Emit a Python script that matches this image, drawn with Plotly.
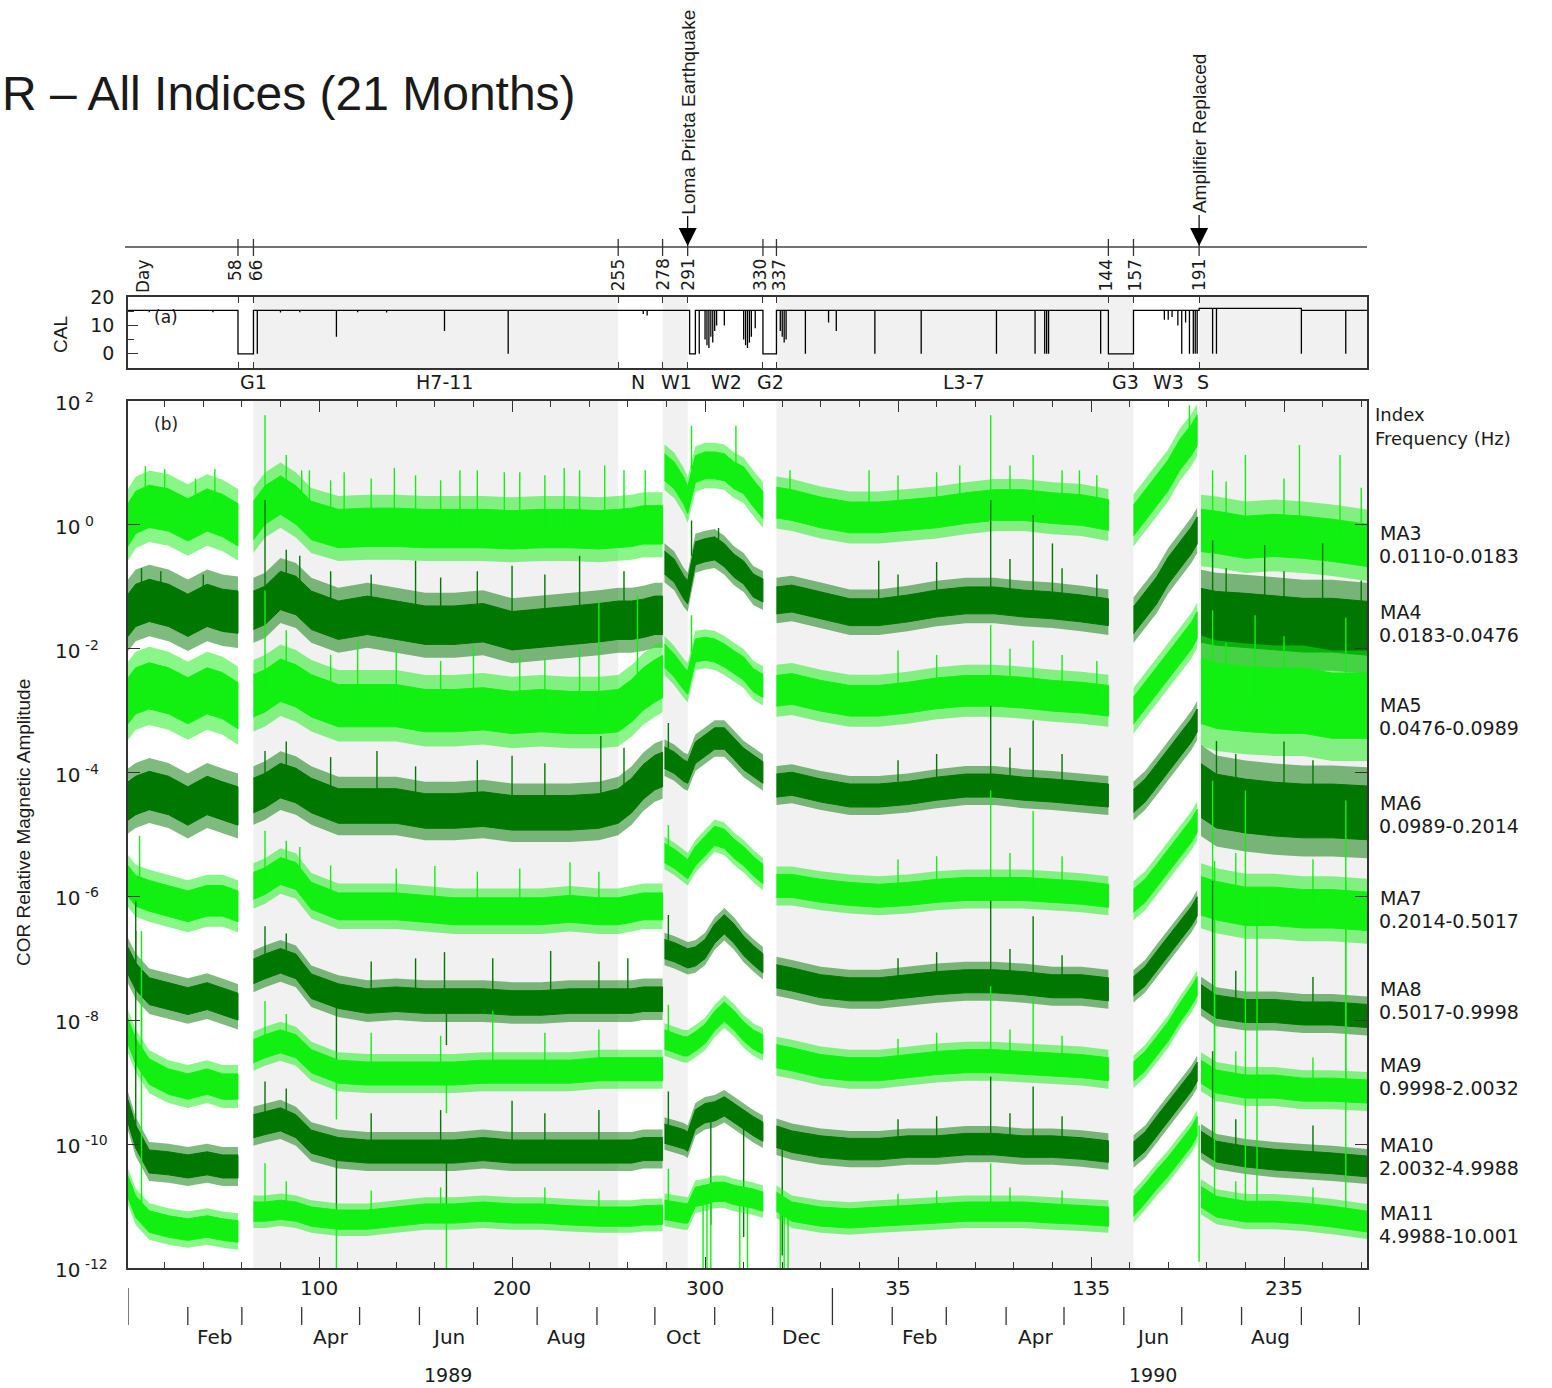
import plotly.graph_objects as go

W, H = 1552, 1388
def px(x): return x / W
def py(y): return 1 - y / H

# ---------------- data ----------------
# day number counted from 1 Jan 1989 (1990 days = 365 + day-of-year)
days = [1, 5, 12, 22, 32, 42, 50, 58,
        66, 72, 80, 88, 96, 110, 125, 140, 155, 170, 185, 200, 215, 230, 245, 255, 262, 268, 274, 278,
        279, 284, 289, 291, 295, 300, 305, 310, 315, 320, 325, 330,
        337, 345, 360, 375, 390, 405, 420, 435, 450, 465, 480, 495, 509,
        522, 528, 534, 540, 546, 552, 555,
        557, 565, 580, 595, 610, 625, 643]
seg_len = [8, 20, 12, 13, 7, 7]

# band centre levels (log10 of amplitude)
ma3_lvl = [0.0, 0.2, 0.3, 0.24, 0.08, 0.24, 0.15, 0.0,
           0.07, 0.32, 0.48, 0.32, 0.07, -0.06, -0.04, -0.04, -0.06, -0.06, -0.06, -0.08, -0.06, -0.06, -0.08, -0.06, -0.04, 0.0, 0.0, 0.0,
           0.93, 0.8, 0.55, 0.4, 0.9, 0.96, 0.96, 0.93, 0.8, 0.72, 0.51, 0.32,
           0.36, 0.32, 0.2, 0.12, 0.12, 0.16, 0.2, 0.27, 0.32, 0.32, 0.27, 0.24, 0.16,
           0.07, 0.32, 0.56, 0.8, 1.13, 1.37, 1.53,
           -0.09, -0.12, -0.2, -0.17, -0.2, -0.25, -0.33]
ma4_lvl = [-1.46, -1.3, -1.22, -1.3, -1.46, -1.3, -1.38, -1.41,
           -1.38, -1.3, -1.06, -1.14, -1.38, -1.54, -1.46, -1.54, -1.62, -1.62, -1.58, -1.71, -1.67, -1.62, -1.58, -1.54, -1.54, -1.51, -1.46, -1.46,
           -0.61, -0.74, -1.01, -1.09, -0.46, -0.41, -0.38, -0.49, -0.66, -0.77, -0.98, -1.06,
           -1.22, -1.19, -1.3, -1.41, -1.41, -1.35, -1.27, -1.22, -1.22, -1.27, -1.3, -1.35, -1.41,
           -1.54, -1.3, -1.06, -0.74, -0.49, -0.25, -0.09,
           -1.46, -1.51, -1.54, -1.58, -1.62, -1.62, -1.67]
ma5_lvl = [-2.84, -2.68, -2.6, -2.68, -2.84, -2.68, -2.76, -2.92,
           -2.76, -2.68, -2.51, -2.6, -2.76, -2.92, -2.92, -2.92, -3.0, -3.0, -2.97, -3.03, -3.0, -3.03, -3.03, -3.0, -2.84, -2.65, -2.52, -2.45,
           -2.11, -2.27, -2.48, -2.55, -2.03, -2.0, -2.03, -2.11, -2.22, -2.32, -2.51, -2.6,
           -2.68, -2.65, -2.76, -2.84, -2.84, -2.79, -2.72, -2.68, -2.68, -2.71, -2.76, -2.79, -2.84,
           -3.0, -2.76, -2.51, -2.27, -2.03, -1.79, -1.62,
           -2.68, -2.76, -2.81, -2.84, -2.84, -2.92, -2.92]
ma6_lvl = [-4.46, -4.37, -4.29, -4.37, -4.54, -4.37, -4.46, -4.54,
           -4.37, -4.29, -4.13, -4.21, -4.37, -4.54, -4.54, -4.54, -4.62, -4.62, -4.59, -4.65, -4.65, -4.65, -4.62, -4.54, -4.37, -4.15, -4.0, -3.95,
           -3.76, -3.84, -3.97, -4.0, -3.68, -3.57, -3.45, -3.45, -3.61, -3.78, -3.89, -4.0,
           -4.21, -4.18, -4.29, -4.37, -4.37, -4.33, -4.26, -4.21, -4.21, -4.26, -4.29, -4.33, -4.37,
           -4.46, -4.29, -4.05, -3.81, -3.57, -3.32, -3.16,
           -4.29, -4.46, -4.54, -4.59, -4.62, -4.62, -4.65]
ma7_lvl = [-5.75, -5.91, -5.99, -6.07, -6.16, -6.07, -6.07, -6.16,
           -5.83, -5.75, -5.59, -5.67, -5.99, -6.16, -6.16, -6.16, -6.2, -6.24, -6.24, -6.24, -6.24, -6.2, -6.24, -6.24, -6.2, -6.16, -6.16, -6.16,
           -5.3, -5.39, -5.51, -5.56, -5.35, -5.18, -5.02, -5.07, -5.23, -5.35, -5.51, -5.64,
           -5.83, -5.83, -5.91, -5.96, -5.99, -5.96, -5.91, -5.88, -5.88, -5.88, -5.91, -5.94, -5.99,
           -6.07, -5.91, -5.67, -5.43, -5.18, -4.94, -4.78,
           -5.99, -6.07, -6.16, -6.16, -6.2, -6.2, -6.24]
ma8_lvl = [-7.04, -7.29, -7.53, -7.61, -7.69, -7.61, -7.69, -7.78,
           -7.21, -7.13, -7.04, -7.13, -7.45, -7.61, -7.69, -7.66, -7.69, -7.69, -7.69, -7.72, -7.72, -7.69, -7.69, -7.69, -7.69, -7.66, -7.66, -7.66,
           -6.85, -6.9, -6.97, -7.0, -6.97, -6.85, -6.6, -6.45, -6.6, -6.8, -6.95, -7.08,
           -7.29, -7.34, -7.45, -7.5, -7.5, -7.45, -7.4, -7.37, -7.37, -7.4, -7.45, -7.45, -7.5,
           -7.45, -7.29, -7.04, -6.8, -6.56, -6.32, -6.16,
           -7.61, -7.78, -7.85, -7.85, -7.89, -7.89, -7.93]
ma9_lvl = [-8.18, -8.5, -8.83, -8.99, -9.07, -8.99, -9.07, -9.07,
           -8.5, -8.42, -8.34, -8.42, -8.66, -8.83, -8.86, -8.86, -8.86, -8.86, -8.83, -8.83, -8.83, -8.83, -8.79, -8.79, -8.79, -8.79, -8.79, -8.79,
           -8.31, -8.36, -8.42, -8.42, -8.34, -8.22, -8.01, -7.86, -8.0, -8.18, -8.31, -8.39,
           -8.58, -8.63, -8.74, -8.79, -8.79, -8.74, -8.69, -8.66, -8.66, -8.69, -8.71, -8.74, -8.79,
           -8.83, -8.66, -8.42, -8.18, -7.88, -7.61, -7.45,
           -8.83, -8.99, -9.07, -9.07, -9.12, -9.12, -9.15]
ma10_lvl = [-9.47, -9.88, -10.28, -10.31, -10.36, -10.31, -10.36, -10.36,
            -9.71, -9.66, -9.6, -9.71, -9.96, -10.08, -10.12, -10.12, -10.12, -10.12, -10.08, -10.12, -10.12, -10.12, -10.12, -10.12, -10.12, -10.08, -10.08, -10.08,
            -9.83, -9.88, -9.92, -9.96, -9.6, -9.5, -9.47, -9.39, -9.5, -9.6, -9.71, -9.8,
            -9.88, -9.96, -10.04, -10.08, -10.08, -10.04, -10.04, -10.0, -10.0, -10.04, -10.04, -10.07, -10.12,
            -10.12, -9.96, -9.71, -9.47, -9.23, -8.99, -8.83,
            -9.96, -10.12, -10.2, -10.25, -10.28, -10.31, -10.36]
ma11_lvl = [-10.69, -11.01, -11.25, -11.33, -11.38, -11.33, -11.38, -11.41,
            -11.09, -11.09, -11.06, -11.09, -11.17, -11.22, -11.22, -11.17, -11.12, -11.12, -11.09, -11.12, -11.12, -11.15, -11.17, -11.17, -11.17, -11.15, -11.15, -11.14,
            -11.06, -11.09, -11.12, -11.12, -10.85, -10.82, -10.77, -10.77, -10.82, -10.85, -10.88, -10.93,
            -10.93, -11.09, -11.17, -11.2, -11.17, -11.14, -11.12, -11.09, -11.09, -11.09, -11.12, -11.14, -11.17,
            -11.01, -10.8, -10.57, -10.36, -10.12, -9.88, -9.71,
            -10.85, -11.01, -11.09, -11.09, -11.12, -11.17, -11.25]

# half thickness of the band (decades), one value per segment
ma3_hw = [0.55, 0.5, 0.35, 0.4, 0.4, 0.55]
ma4_hw = [0.55, 0.5, 0.3, 0.35, 0.35, 0.7]
ma5_hw = [0.6, 0.55, 0.3, 0.4, 0.35, 0.85]
ma6_hw = [0.5, 0.45, 0.28, 0.3, 0.3, 0.7]
ma7_hw = [0.4, 0.35, 0.25, 0.3, 0.3, 0.5]
ma8_hw = [0.35, 0.32, 0.25, 0.3, 0.25, 0.3]
ma9_hw = [0.33, 0.3, 0.25, 0.3, 0.25, 0.3]
ma10_hw = [0.3, 0.3, 0.25, 0.28, 0.25, 0.27]
ma11_hw = [0.28, 0.25, 0.25, 0.25, 0.25, 0.27]

# isolated spikes: (day, log10 base, log10 tip)
ma3_spk = [(10, 0.3, 0.95), (20, 0.25, 0.9), (36, 0.1, 0.75), (46, 0.25, 0.9),
           (72, 0.3, 1.77), (83, 0.45, 1.13), (91, 0.1, 0.88), (95, 0.1, 0.88), (106, -0.05, 0.72),
           (113, -0.05, 0.85), (127, -0.04, 0.75), (139, -0.04, 0.92), (150, -0.05, 0.8), (163, -0.06, 0.72),
           (173, -0.06, 0.88), (182, -0.06, 0.88), (196, -0.08, 0.85), (204, -0.08, 0.85), (217, -0.06, 0.8),
           (227, -0.06, 0.92), (235, -0.06, 0.88), (248, -0.08, 0.96), (258, -0.05, 0.88), (269, 0.0, 0.88),
           (293, 0.9, 1.6), (316, 0.8, 1.6),
           (344, 0.32, 0.88), (385, 0.12, 0.88), (400, 0.12, 0.8), (420, 0.2, 0.85), (432, 0.25, 0.96),
           (448, 0.3, 1.77), (458, 0.3, 0.96), (470, 0.3, 1.13), (485, 0.27, 0.88), (494, 0.24, 0.88),
           (503, 0.2, 0.8), (551, 1.35, 1.93), (563, -0.12, 0.88), (570, -0.15, 0.7), (580, -0.2, 1.13),
           (600, -0.17, 0.75), (608, -0.2, 1.29), (629, -0.25, 1.13), (640, -0.3, 0.6)]
ma4_spk = [(8, -1.3, -0.7), (18, -1.25, -0.75), (40, -1.3, -0.8),
           (72, -1.3, 0.4), (83, -1.1, -0.4), (90, -1.1, -0.5), (106, -1.5, -0.75), (127, -1.45, -0.8),
           (150, -1.55, -0.58), (163, -1.6, -0.85), (182, -1.58, -0.75), (200, -1.7, -0.66), (217, -1.67, -0.8),
           (235, -1.6, -0.5), (258, -1.54, -0.75),
           (293, -0.5, 0.07), (307, -0.4, -0.05), (390, -1.41, -0.58), (400, -1.41, -0.8), (420, -1.27, -0.6),
           (448, -1.22, 0.4), (458, -1.22, -0.55), (470, -1.27, 0.16), (480, -1.3, -0.3), (485, -1.3, -0.7),
           (503, -1.38, -0.8), (563, -1.5, -0.25), (570, -1.5, -0.7), (590, -1.55, -0.33), (600, -1.58, -0.75),
           (620, -1.6, -0.3), (640, -1.67, -0.9)]
ma5_spk = [(72, -2.68, -1.06), (83, -2.51, -1.7), (106, -2.9, -2.1), (120, -2.92, -1.87), (140, -2.92, -2.0),
           (163, -3.0, -2.2), (180, -2.97, -1.95), (204, -3.03, -2.1), (217, -3.0, -2.15), (235, -3.03, -2.0),
           (245, -3.03, -1.22), (265, -2.7, -1.14),
           (293, -2.05, -1.46), (400, -2.8, -2.03), (420, -2.72, -2.1), (448, -2.68, -1.62), (458, -2.68, -2.0),
           (470, -2.7, -1.87), (485, -2.76, -2.1), (503, -2.8, -2.2), (563, -2.76, -1.38), (570, -2.8, -1.9),
           (585, -2.81, -1.46), (600, -2.84, -1.8), (632, -2.9, -1.5)]
ma6_spk = [(72, -4.29, -3.65), (83, -4.13, -3.5), (106, -4.5, -3.75), (130, -4.54, -3.65), (150, -4.6, -3.9),
           (182, -4.6, -3.8), (200, -4.65, -3.73), (217, -4.65, -3.85), (246, -4.62, -3.41), (258, -4.5, -3.6),
           (281, -3.8, -3.2), (400, -4.37, -3.8), (420, -4.26, -3.7), (448, -4.21, -2.92), (458, -4.21, -3.6),
           (470, -4.26, -3.16), (485, -4.29, -3.7), (565, -4.46, -3.49), (575, -4.5, -3.7), (600, -4.6, -3.5),
           (615, -4.62, -3.8)]
ma7_spk = [(7, -5.9, -5.02), (72, -5.75, -4.94), (83, -5.59, -5.1), (90, -5.65, -5.2), (106, -6.1, -5.5),
           (140, -6.16, -5.55), (160, -6.2, -5.51), (182, -6.24, -5.6), (204, -6.24, -5.55), (230, -6.2, -5.45),
           (245, -6.24, -5.6), (281, -5.35, -4.85), (400, -5.99, -5.4), (420, -5.91, -5.35), (448, -5.88, -4.29),
           (458, -5.88, -5.3), (470, -5.88, -4.62), (485, -5.91, -5.35), (563, -6.07, -4.13), (575, -6.1, -5.3),
           (580, -6.16, -4.29), (615, -6.2, -5.4), (632, -6.2, -4.45)]
ma8_spk = [(5, -7.29, -6.07), (72, -7.13, -6.48), (83, -7.04, -6.6), (127, -7.69, -7.05), (150, -7.69, -7.0),
           (165, -7.69, -6.9), (190, -7.69, -7.0), (220, -7.72, -6.88), (245, -7.69, -7.05), (260, -7.69, -7.0),
           (281, -6.9, -6.3), (400, -7.5, -7.0), (420, -7.4, -6.9), (448, -7.37, -6.07), (458, -7.37, -6.85),
           (470, -7.4, -6.32), (485, -7.45, -6.95), (563, -7.78, -5.75), (575, -7.85, -7.2), (615, -7.89, -7.3),
           (109, -7.61, -8.7), (166, -7.69, -8.4)]
ma9_spk = [(8, -8.6, -6.56), (72, -8.42, -7.69), (83, -8.34, -7.9), (127, -8.86, -8.2), (163, -8.86, -8.25),
           (190, -8.83, -7.85), (217, -8.83, -8.2), (245, -8.79, -8.15), (281, -8.35, -7.75), (400, -8.79, -8.3),
           (420, -8.69, -8.2), (448, -8.66, -7.45), (458, -8.66, -8.15), (470, -8.69, -7.61), (485, -8.71, -8.25),
           (564, -8.99, -5.43), (575, -9.07, -8.5), (615, -9.12, -8.6), (632, -9.12, -6.24),
           (109, -8.83, -9.6), (166, -8.86, -9.5)]
ma10_spk = [(5, -9.88, -6.56), (72, -9.66, -8.99), (83, -9.6, -9.1), (127, -10.12, -9.5), (163, -10.12, -9.45),
            (200, -10.12, -9.3), (217, -10.12, -9.5), (245, -10.12, -9.45), (281, -9.85, -9.15),
            (400, -10.08, -9.6), (420, -10.04, -9.55), (448, -10.0, -8.91), (458, -10.0, -9.5), (470, -10.04, -9.07),
            (485, -10.04, -9.55), (563, -10.12, -8.5), (575, -10.2, -9.6), (615, -10.28, -9.7),
            (109, -10.08, -11.3), (166, -10.12, -11.0), (303, -9.45, -11.3), (320, -9.6, -11.5), (340, -9.9, -11.8)]
ma11_spk = [(8, -11.0, -7.69), (72, -11.09, -10.31), (83, -11.06, -10.6), (127, -11.22, -10.75),
            (163, -11.12, -10.7), (217, -11.12, -10.7), (245, -11.17, -10.75), (281, -11.06, -10.4),
            (400, -11.17, -10.8), (420, -11.12, -10.75), (448, -11.09, -10.31), (458, -11.09, -10.7),
            (485, -11.12, -10.75), (564, -11.01, -5.59), (575, -11.09, -10.6), (580, -11.09, -6.24),
            (586, -11.09, -5.91), (615, -11.12, -10.7), (632, -11.15, -5.75),
            (109, -11.2, -12.1), (166, -11.12, -12.1), (299, -10.85, -12.1), (301, -10.8, -12.1),
            (303, -10.8, -12.1), (318, -10.85, -12.1), (322, -10.9, -12.1), (339, -10.95, -12.1),
            (341, -11.0, -12.1), (343, -11.05, -12.1), (556, -9.7, -11.9)]

series_names = ["MA3", "MA4", "MA5", "MA6", "MA7", "MA8", "MA9", "MA10", "MA11"]
series_freq = ["0.0110-0.0183", "0.0183-0.0476", "0.0476-0.0989", "0.0989-0.2014", "0.2014-0.5017",
               "0.5017-0.9998", "0.9998-2.0032", "2.0032-4.9988", "4.9988-10.001"]

# CAL panel
cal_level_day = [1, 556, 609]
cal_level_val = [15.3, 16.0, 15.3]
cal_drop_day = [12, 25, 45, 68, 80, 90, 109, 120, 135, 165, 198, 268, 270, 297, 300, 301, 302, 303, 304, 305,
                306, 310, 320, 321, 322, 323, 324, 326, 339, 340, 341, 342, 352, 364, 368, 388, 412, 451,
                471, 476, 477, 478, 505, 538, 540, 542, 545, 547, 549, 551, 553, 554, 555, 563, 565, 609, 632]
cal_drop_min = [14.6, 14.8, 14.6, 0, 14.5, 14.6, 6, 14.6, 14.5, 8, 0, 14.0, 13.5, 0, 5, 3, 2, 6, 4, 8,
                10, 10, 5, 3, 2, 4, 6, 9, 8, 6, 4, 5, 0, 11, 8, 0, 0, 0,
                0, 0, 0, 0, 0, 12, 12, 13, 10, 0, 11, 0, 0, 0, 0, 0, 0, 0, 0]
cal_zero_start = [58, 292, 330, 509]
cal_zero_end = [66, 295, 337, 522]

# annotations of the time line
event_day = [58, 66, 255, 278, 291, 330, 337, 509, 522, 556]
event_lbl = ["58", "66", "255", "278", "291", "330", "337", "144", "157", "191"]
shade_start = [66, 278, 337, 556]
shade_end = [255, 291, 522, 643]
seg_lbl = ["G1", "H7-11", "N", "W1", "W2", "G2", "L3-7", "G3", "W3", "S"]
seg_lbl_day = [66, 165, 265, 285, 311, 334, 434, 518, 540, 558]
tick_day = [100, 200, 300, 400, 500, 600]
tick_lbl = ["100", "200", "300", "35", "135", "235"]
ytick_exp = [-12, -10, -8, -6, -4, -2, 0, 2]
month_start = [1, 32, 60, 91, 121, 152, 182, 213, 244, 274, 305, 335,
               366, 397, 425, 456, 486, 517, 547, 578, 609, 639]
year_start = [1, 366]
month_lbl = ["Feb", "Apr", "Jun", "Aug", "Oct", "Dec", "Feb", "Apr", "Jun", "Aug"]
month_lbl_day = [46, 106, 167, 228, 289, 350, 411, 471, 532, 593]
year_lbl = ["1989", "1990"]
year_lbl_day = [167, 532]

# ---------------- figure ----------------
LIGHT = "#11f011"
DARK = "#007800"
LIGHT_A = "rgba(17,240,17,0.5)"
DARK_A = "rgba(0,120,0,0.5)"
FONT = "DejaVu Sans"
AFONT = "Liberation Sans"
TXT = "#1a1a1a"

fig = go.Figure()

# CAL line
def cal_level(d):
    v = cal_level_val[0]
    for dd, vv in zip(cal_level_day, cal_level_val):
        if d >= dd:
            v = vv
    return v

events = []
for d, m in zip(cal_drop_day, cal_drop_min):
    events.append((d, [(d, cal_level(d)), (d, m), (d, cal_level(d))]))
for s, e in zip(cal_zero_start, cal_zero_end):
    events.append((s, [(s, cal_level(s)), (s, 0), (e, 0), (e, cal_level(e))]))
for d in cal_level_day[1:]:
    events.append((d - 0.01, [(d, cal_level(d - 1)), (d, cal_level(d))]))
events.sort(key=lambda t: t[0])
cx, cy = [1], [cal_level(1)]
for _, pts in events:
    for a, b in pts:
        cx.append(a); cy.append(b)
cx.append(643); cy.append(cal_level(643))
fig.add_trace(go.Scatter(x=cx, y=cy, mode="lines", line=dict(color="black", width=1.3),
                         xaxis="x2", yaxis="y2", showlegend=False, hoverinfo="skip"))

levels = [ma3_lvl, ma4_lvl, ma5_lvl, ma6_lvl, ma7_lvl, ma8_lvl, ma9_lvl, ma10_lvl, ma11_lvl]
hws = [ma3_hw, ma4_hw, ma5_hw, ma6_hw, ma7_hw, ma8_hw, ma9_hw, ma10_hw, ma11_hw]
spks = [ma3_spk, ma4_spk, ma5_spk, ma6_spk, ma7_spk, ma8_spk, ma9_spk, ma10_spk, ma11_spk]


def band(lvl, hw, frac):
    xs, ys = [], []
    i = 0
    for s, n in enumerate(seg_len):
        d = days[i:i + n]
        c = lvl[i:i + n]
        top = [10 ** (v + hw[s] * frac) for v in c]
        bot = [10 ** (v - hw[s] * frac) for v in c]
        xs += d + d[::-1] + [None]
        ys += top + bot[::-1] + [None]
        i += n
    return xs, ys


for k, (lvl, hw, spk) in enumerate(zip(levels, hws, spks)):
    light = k % 2 == 0
    col = LIGHT if light else DARK
    xs, ys = band(lvl, hw, 1.05)
    fig.add_trace(go.Scatter(x=xs, y=ys, mode="lines", fill="toself", fillcolor=LIGHT_A if light else DARK_A,
                             line=dict(width=0), xaxis="x", yaxis="y",
                             showlegend=False, hoverinfo="skip"))
    xs, ys = band(lvl, hw, 0.62)
    fig.add_trace(go.Scatter(x=xs, y=ys, mode="lines", fill="toself", fillcolor=col,
                             line=dict(color=col, width=1), xaxis="x", yaxis="y",
                             showlegend=False, hoverinfo="skip", name=series_names[k]))
    sx, sy = [], []
    for d, b, t in spk:
        sx += [d, d, None]
        sy += [10 ** b, 10 ** t, None]
    fig.add_trace(go.Scatter(x=sx, y=sy, mode="lines", line=dict(color=col, width=1.4),
                             xaxis="x", yaxis="y", showlegend=False, hoverinfo="skip"))

shapes = []
for s, e in zip(shade_start, shade_end):
    for yr in ("y domain", "y2 domain"):
        shapes.append(dict(type="rect", xref="x", yref=yr, x0=s, x1=e, y0=0, y1=1,
                           fillcolor="#f1f1f1", line=dict(width=0), layer="below"))
# time line on top
shapes.append(dict(type="line", xref="paper", yref="paper", x0=px(125), x1=px(1367),
                   y0=py(247), y1=py(247), line=dict(color="#444", width=1.5)))
for d in event_day:
    shapes.append(dict(type="line", xref="x", yref="paper", x0=d, x1=d, y0=py(239), y1=py(256),
                       line=dict(color="#333", width=1.3)))
# month ticks below
for d in month_start:
    top = 1288 if d in year_start else 1307
    shapes.append(dict(type="line", xref="x", yref="paper", x0=d, x1=d, y0=py(top), y1=py(1325),
                       line=dict(color="#333", width=1.3)))


def note(text, x, y, xref="paper", yref="paper", size=19, family=FONT, angle=0, xa="center", ya="middle", **kw):
    d = dict(text=text, x=x, y=y, xref=xref, yref=yref, xanchor=xa, yanchor=ya,
             showarrow=False, textangle=angle, font=dict(family=family, size=size, color=TXT))
    d.update(kw)
    return d


ann = []
ann.append(note("R – All Indices (21 Months)", px(0), py(94), size=48,
                family="Liberation Sans Narrow, Liberation Sans", xa="left"))
ann.append(note("Day", px(143), py(257), size=17, angle=-90, ya="top"))
for d, t in zip(event_day, event_lbl):
    dx = {58: -1.5, 66: 1.5, 330: -1.5, 337: 1.5, 509: -1, 522: 1}.get(d, 0)
    ann.append(note(t, d + dx, py(257), xref="x", size=17, angle=-90, ya="top"))
ann.append(dict(text="Loma Prieta Earthquake", x=291, y=py(246), xref="x", yref="paper", textangle=-90,
                showarrow=True, ax=0, ay=-134, arrowhead=2, arrowsize=3, arrowwidth=1.2, arrowcolor="black",
                font=dict(family=AFONT, size=19, color=TXT)))
ann.append(dict(text="Amplifier Replaced", x=556, y=py(246), xref="x", yref="paper", textangle=-90,
                showarrow=True, ax=0, ay=-112, arrowhead=2, arrowsize=3, arrowwidth=1.2, arrowcolor="black",
                font=dict(family=AFONT, size=19, color=TXT)))
ann.append(note("CAL", px(61), py(335), family=AFONT, angle=-90))
ann.append(note("(a)", px(166), py(317), size=17))
ann.append(note("(b)", px(166), py(424), size=17))
for d, t in zip(seg_lbl_day, seg_lbl):
    ann.append(note(t, d, py(382), xref="x"))
ann.append(note("COR Relative Magnetic Amplitude", px(23), py(823), family=AFONT, angle=-90))
# left-aligned decade labels of the log axis
for e in ytick_exp:
    ann.append(note("10<sup> %d</sup>" % e, px(53), e, yref="y", size=20, xa="left", yshift=-1))
ann.append(note("Index", px(1373), py(415), size=18, xa="left"))
ann.append(note("Frequency (Hz)", px(1373), py(438), size=18, xa="left"))
name_y = [533, 612, 705, 803, 898, 989, 1065, 1145, 1213]
for nm, fr, yy in zip(series_names, series_freq, name_y):
    ann.append(note(nm, px(1378), py(yy), xa="left"))
    ann.append(note(fr, px(1377), py(yy + 23), xa="left"))
for d, t in zip(month_lbl_day, month_lbl):
    ann.append(note(t, d, py(1337), xref="x", size=20))
for d, t in zip(year_lbl_day, year_lbl):
    ann.append(note(t, d, py(1375), xref="x", size=19))

xdom = [px(128), px(1367)]
fig.update_layout(
    width=W, height=H, margin=dict(l=0, r=0, t=0, b=0, pad=0), autosize=False,
    paper_bgcolor="white", plot_bgcolor="white", showlegend=False,
    shapes=shapes, annotations=ann,
    xaxis=dict(domain=xdom, range=[1, 643], anchor="y", showgrid=False, zeroline=False,
               showline=True, linecolor="#333", linewidth=1.5, mirror="ticks",
               ticks="inside", ticklen=11, tickwidth=1.3, tickcolor="#333",
               tickmode="array", tickvals=tick_day, ticktext=tick_lbl, automargin=False,
               tickfont=dict(family=FONT, size=20, color=TXT), ticklabelstandoff=1,
               minor=dict(tickmode="linear", tick0=0, dtick=20, ticks="inside", ticklen=6,
                          tickcolor="#333", tickwidth=1.2, showgrid=False)),
    yaxis=dict(domain=[py(1268), py(401)], type="log", range=[-12, 2], anchor="x",
               showgrid=False, zeroline=False, showline=True, linecolor="#333", linewidth=1.5,
               mirror="ticks", ticks="inside", ticklen=12, tickwidth=1.3, tickcolor="#333",
               tickmode="array", tickvals=[10 ** e for e in ytick_exp], automargin=False,
               showticklabels=False),
    xaxis2=dict(domain=xdom, range=[1, 643], anchor="y2", showgrid=False, zeroline=False,
                showline=True, linecolor="#333", linewidth=1.5, mirror="ticks", automargin=False,
                ticks="inside", ticklen=6, tickcolor="#333", tickmode="array", tickvals=event_day,
                showticklabels=False),
    yaxis2=dict(domain=[py(368), py(297)], range=[-5, 20], anchor="x2", showgrid=False, zeroline=False,
                showline=True, linecolor="#333", linewidth=1.5, mirror=True, automargin=False,
                ticks="inside", ticklen=10, tickcolor="#333", tickmode="array", tickvals=[0, 10, 20],
                tickfont=dict(family=FONT, size=19, color=TXT), ticklabelstandoff=8,
                minor=dict(tickmode="array", tickvals=[5, 15], ticks="inside", ticklen=6, tickcolor="#333")),
)

fig.write_html("out.html")
